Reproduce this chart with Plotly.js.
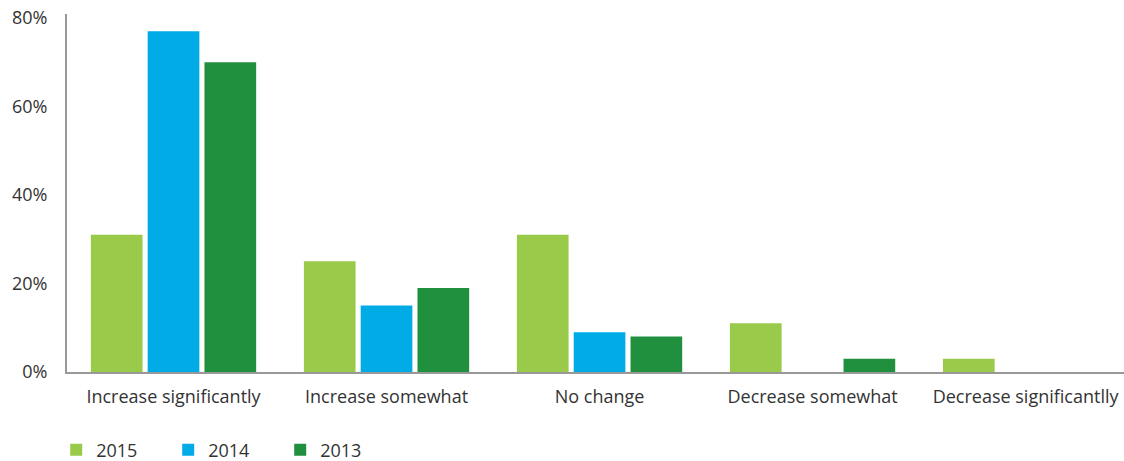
<!DOCTYPE html>
<html><head><meta charset="utf-8">
<script src="https://cdn.plot.ly/plotly-3.0.1.min.js"></script>
<style>html,body{margin:0;padding:0;background:#fff}#chart{width:1124px;height:461px}</style>
</head><body><div id="chart"></div>
<script>
const categories = ["Increase significantly", "Increase somewhat", "No change", "Decrease somewhat", "Decrease significantlly"];
const series2015 = [31, 25, 31, 11, 3];
const series2014 = [77, 15, 9, 0, 0];
const series2013 = [70, 19, 8, 3, 0];
const seriesNames = ["2015", "2014", "2013"];
const colors = ["#99ca4a", "#00abe6", "#20903f"];
const yTicks = [0, 20, 40, 60, 80];
const yTickLabels = ["0%", "20%", "40%", "60%", "80%"];

const allSeries = [series2015, series2014, series2013];
const traces = allSeries.map((vals, i) => ({
  type: "bar", x: categories, y: vals, name: seriesNames[i],
  marker: {color: colors[i], line: {width: 0}}, hoverinfo: "x+y+name"
}));

const font = {family: "Open Sans, Noto Sans, sans-serif", size: 18, color: "#333"};
const layout = {
  width: 1124, height: 461,
  margin: {l: 67, r: 0, t: 14, b: 89, pad: 0, autoexpand: false},
  paper_bgcolor: "#fff", plot_bgcolor: "#fff",
  font: font,
  barmode: "group", bargap: 0.2, bargroupgap: 0.09,
  showlegend: true,
  legend: {orientation: "h", xref: "container", yref: "container", x: 0.05, xanchor: "left",
    y: 0.024, yanchor: "middle",
    font: font, entrywidth: 67, entrywidthmode: "pixels", itemwidth: 30, traceorder: "normal"},
  xaxis: {type: "category", range: [-0.5, 4.462], showgrid: false, zeroline: false,
    showline: true, linecolor: "#999", linewidth: 2,
    ticks: "outside", ticklen: 7, tickcolor: "rgba(0,0,0,0)", tickfont: font, fixedrange: true},
  yaxis: {range: [0, 80.9], tickvals: yTicks, ticktext: yTickLabels, showgrid: false,
    zeroline: false, showline: true, linecolor: "#999", linewidth: 2,
    ticks: "outside", ticklen: 14, tickcolor: "rgba(0,0,0,0)", tickfont: font, fixedrange: true}
};
Plotly.newPlot("chart", traces, layout, {displayModeBar: false, staticPlot: true});
</script></body></html>
